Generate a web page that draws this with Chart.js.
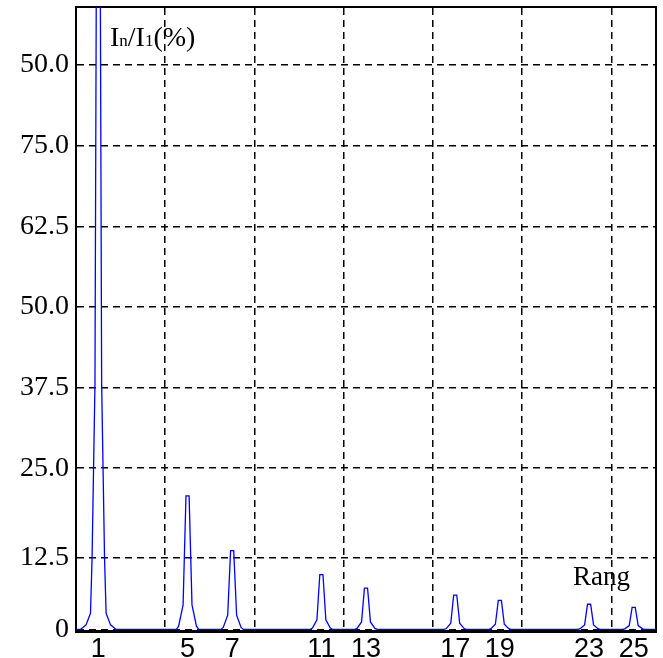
<!DOCTYPE html>
<html lang="fr">
<head>
    <meta charset="UTF-8">
    <title>Spectre harmonique</title>
    <script src="https://cdn.jsdelivr.net/npm/chart.js"></script>
    <style>
        html, body {
            margin: 0;
            padding: 0;
            background: #ffffff;
            overflow: hidden;
        }
        canvas { display: block; }
    </style>
</head>
<body>
<canvas id="spectre" width="663" height="658"></canvas>

<script>
    // Rangs affichés sous l'axe x
    const harmonics = [1, 5, 7, 11, 13, 17, 19, 23, 25];
    // Lignes verticales de la grille
    const gridX = [0, 4, 8, 12, 16, 20, 24];
    // Graduations de l'axe y (valeurs et libellés tels qu'écrits sur l'image)
    const yTickValues = [0, 11.1, 25, 37.5, 50, 62.5, 75, 87.5];
    const yTickLabels = ['0', '12.5', '25.0', '37.5', '50.0', '62.5', '75.0', '50.0'];

    // Tracé du spectre In/I1 (%), un pic par ligne
    const traceX = [
        0, 0.2, 0.45, 0.65, 0.72, 0.85, 0.91, 1.09, 1.15, 1.28, 1.35, 1.55, 1.8,
        4.5, 4.6, 4.8, 4.93, 5.07, 5.2, 5.4, 5.5,
        6.5, 6.6, 6.8, 6.93, 7.07, 7.2, 7.4, 7.5,
        10.5, 10.6, 10.8, 10.93, 11.07, 11.2, 11.4, 11.5,
        12.5, 12.6, 12.8, 12.93, 13.07, 13.2, 13.4, 13.5,
        16.5, 16.6, 16.8, 16.93, 17.07, 17.2, 17.4, 17.5,
        18.5, 18.6, 18.8, 18.93, 19.07, 19.2, 19.4, 19.5,
        22.5, 22.6, 22.8, 22.93, 23.07, 23.2, 23.4, 23.5,
        24.5, 24.6, 24.8, 24.93, 25.07, 25.2, 25.4, 25.5, 26
    ];
    const traceY = [
        0, 0, 0.7, 2.5, 11, 38, 100, 100, 38, 11, 2.5, 0.7, 0,
        0, 0.5, 3.8, 20.7, 20.7, 3.8, 0.5, 0,
        0, 0.3, 2.2, 12.2, 12.2, 2.2, 0.3, 0,
        0, 0.2, 1.5, 8.5, 8.5, 1.5, 0.2, 0,
        0, 0.15, 1.15, 6.4, 6.4, 1.15, 0.15, 0,
        0, 0.13, 0.95, 5.3, 5.3, 0.95, 0.13, 0,
        0, 0.1, 0.8, 4.5, 4.5, 0.8, 0.1, 0,
        0, 0.1, 0.7, 3.9, 3.9, 0.7, 0.1, 0,
        0, 0.08, 0.6, 3.4, 3.4, 0.6, 0.08, 0, 0
    ];

    const serif = '"Liberation Serif", "Times New Roman", serif';
    const sans = '"Liberation Sans", Arial, sans-serif';
    const gridDash = [7, 5];

    // Pas de marge ajoutée pour les libellés en bout d'axe
    function noPad(s) {
        s.paddingTop = 0;
        s.paddingBottom = 0;
        s.paddingLeft = 0;
        s.paddingRight = 0;
    }

    // Textes dans la zone du graphique : In/I1(%) et Rang
    const annotations = {
        id: 'annotations',
        afterDraw(chart) {
            const { ctx, chartArea: a } = chart;
            ctx.save();
            ctx.fillStyle = '#000';
            ctx.textBaseline = 'alphabetic';
            const parts = [['I', 28], ['n', 17], ['/I', 28], ['1', 17], ['(%)', 28]];
            let x = a.left + 34;
            const y = a.top + 39;
            parts.forEach(([t, size]) => {
                ctx.font = size + 'px ' + serif;
                ctx.fillText(t, x, y);
                x += ctx.measureText(t).width;
            });
            ctx.font = '27px ' + serif;
            ctx.fillText('Rang', a.right - 83, a.bottom - 46);
            ctx.restore();
        }
    };

    new Chart(document.getElementById('spectre'), {
        type: 'line',
        data: {
            datasets: [{
                data: traceX.map((x, i) => ({ x: x, y: traceY[i] })),
                borderColor: 'rgb(0, 0, 255)',
                borderWidth: 1.3,
                pointRadius: 0,
                tension: 0,
                fill: false
            }]
        },
        options: {
            responsive: false,
            animation: false,
            events: [],
            layout: { padding: { top: 7, right: 7, left: 0, bottom: 0 } },
            plugins: {
                legend: { display: false },
                tooltip: { enabled: false }
            },
            scales: {
                x: {
                    type: 'linear',
                    position: 'bottom',
                    min: 0,
                    max: 26,
                    afterBuildTicks: s => { s.ticks = harmonics.map(v => ({ value: v })); },
                    afterFit: s => { s.height = 27; noPad(s); },
                    grid: { display: false, drawTicks: false },
                    border: { display: true, color: '#000', width: 3 },
                    ticks: {
                        color: '#000',
                        font: { family: sans, size: 27 },
                        padding: 2,
                        maxRotation: 0,
                        autoSkip: false,
                        callback: v => String(v)
                    }
                },
                xGrid: {
                    type: 'linear',
                    position: 'top',
                    min: 0,
                    max: 26,
                    afterBuildTicks: s => { s.ticks = gridX.map(v => ({ value: v })); },
                    afterFit: s => { s.height = 0; noPad(s); },
                    ticks: { display: false },
                    grid: { color: '#000', lineWidth: 1.5, drawTicks: false },
                    border: { display: true, color: '#000', width: 2, dash: gridDash }
                },
                y: {
                    type: 'linear',
                    position: 'left',
                    min: -0.25,
                    max: 96.5,
                    afterBuildTicks: s => { s.ticks = yTickValues.map(v => ({ value: v })); },
                    afterFit: s => { s.width = 76; noPad(s); },
                    grid: { color: '#000', lineWidth: 1.5, drawTicks: false },
                    border: { display: true, color: '#000', width: 2, dash: gridDash },
                    ticks: {
                        color: '#000',
                        font: { family: serif, size: 28 },
                        padding: 7,
                        callback: (v, i) => yTickLabels[i]
                    }
                },
                yRight: {
                    type: 'linear',
                    position: 'right',
                    min: -0.25,
                    max: 96.5,
                    afterFit: s => { s.width = 0; noPad(s); },
                    ticks: { display: false },
                    grid: { display: false, drawTicks: false },
                    border: { display: true, color: '#000', width: 2 }
                }
            }
        },
        plugins: [annotations]
    });
</script>
</body>
</html>
